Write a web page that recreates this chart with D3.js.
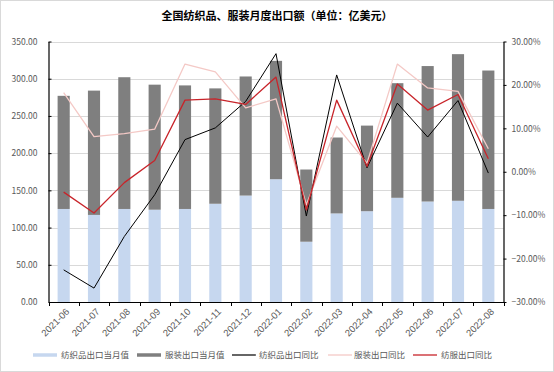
<!DOCTYPE html>
<html><head><meta charset="utf-8">
<script src="https://cdn.jsdelivr.net/npm/d3@7"></script>
<style>
html,body{margin:0;padding:0;background:#fff;}
svg{display:block;font-family:"Noto Sans CJK SC","Noto Sans",sans-serif;}
</style></head>
<body><svg id="c" width="554" height="372"></svg>
<script>
const title = "全国纺织品、服装月度出口额（单位：亿美元）";
const categories = ["2021-06","2021-07","2021-08","2021-09","2021-10","2021-11","2021-12","2022-01","2022-02","2022-03","2022-04","2022-05","2022-06","2022-07","2022-08"];
const textileValue = [125,117,125,124,125,132,143,165,81,119,122,140,135,136,125];
const garmentValue = [152,167,177,168,166,155,160,159,97,102,115,154,182,197,186];
const textileYoY = [-22.6,-26.8,-14.9,-5.3,7.4,10.1,16.2,27.2,-10.2,22.3,0.9,15.8,8.0,16.4,-0.3];
const garmentYoY = [18.2,8.1,8.8,9.8,24.8,23.0,14.7,16.8,-7.6,10.5,2.0,24.8,19.3,18.5,5.3];
const totalYoY = [-4.7,-9.5,-2.5,2.6,16.5,16.8,15.5,21.8,-8.8,16.5,1.2,20.2,14.2,17.8,3.0];
const leftTicks = [0,50,100,150,200,250,300,350];
const rightTicks = [-30,-20,-10,0,10,20,30];
const legendNames = ["纺织品出口当月值","服装出口当月值","纺织品出口同比","服装出口同比","纺服出口同比"];

const colors = {blue:"#c6d7ef", gray:"#7f7f7f", black:"#000000", pink:"#f4c9c6", red:"#c8242a"};
const svg = d3.select("#c");
const W = 554, H = 372;
const L = 48.5, R = 503.5, T = 41.5, B = 302;

svg.append("rect").attr("x",0.5).attr("y",0.5).attr("width",W-1).attr("height",H-1)
  .attr("fill","#fff").attr("stroke","#d9d9d9");

svg.append("text").attr("x",277).attr("y",20).attr("text-anchor","middle")
  .attr("font-size",11).attr("font-weight","bold").attr("fill","#000").text(title);

const x = d3.scaleBand().domain(categories).range([L,R]).paddingInner(0.6).paddingOuter(0.3);
const xb = d3.scaleBand().domain(categories).range([L,R]);
const yL = d3.scaleLinear().domain([0,350]).range([B,T]);
const yR = d3.scaleLinear().domain([-30,30]).range([B,T]);

// gridlines
svg.append("g").selectAll("line").data(leftTicks.filter(d=>d>0)).join("line")
  .attr("x1",L).attr("x2",R).attr("y1",d=>Math.round(yL(d))+0.5).attr("y2",d=>Math.round(yL(d))+0.5)
  .attr("stroke","#d9d9d9").attr("stroke-width",1);

// bars
const stack = categories.map((c,i)=>({c, t:textileValue[i], g:garmentValue[i]}));
svg.append("g").selectAll("rect").data(stack).join("rect")
  .attr("x",d=>x(d.c)).attr("width",x.bandwidth())
  .attr("y",d=>yL(d.t)).attr("height",d=>yL(0)-yL(d.t)).attr("fill",colors.blue);
svg.append("g").selectAll("rect").data(stack).join("rect")
  .attr("x",d=>x(d.c)).attr("width",x.bandwidth())
  .attr("y",d=>yL(d.t+d.g)).attr("height",d=>yL(d.t)-yL(d.t+d.g)).attr("fill",colors.gray);

// lines
const cx = c => xb(c)+xb.bandwidth()/2;
function drawLine(arr,color,w){
  const line = d3.line().x((d,i)=>cx(categories[i])).y(d=>yR(d));
  svg.append("path").datum(arr).attr("d",line).attr("fill","none")
    .attr("stroke",color).attr("stroke-width",w).attr("stroke-linejoin","round");
}
drawLine(textileYoY,colors.black,1);
drawLine(garmentYoY,colors.pink,1.3);
drawLine(totalYoY,colors.red,1.3);

// axes
const axL = d3.axisLeft(yL).tickValues(leftTicks).tickSizeInner(-3).tickSizeOuter(0).tickPadding(11)
  .tickFormat(d3.format(".2f"));
const gL = svg.append("g").attr("transform",`translate(${L},0)`).call(axL);
const axR = d3.axisRight(yR).tickValues(rightTicks).tickSizeInner(3).tickSizeOuter(0).tickPadding(5)
  .tickFormat(d=>d3.format(".2f")(d)+"%");
const gR = svg.append("g").attr("transform",`translate(${R},0)`).call(axR);
const axB = d3.axisBottom(xb).tickSize(0).tickFormat("");
const gB = svg.append("g").attr("transform",`translate(0,${B})`).call(axB);
// category boundary ticks
gB.selectAll("line.bt").data(d3.range(categories.length+1)).join("line").attr("class","bt")
  .attr("x1",i=>Math.round(L+i*xb.step())+0.5).attr("x2",i=>Math.round(L+i*xb.step())+0.5)
  .attr("y1",0).attr("y2",4).attr("stroke","#000");
// x labels
gB.selectAll("text.xl").data(categories).join("text").attr("class","xl")
  .attr("transform",d=>`translate(${cx(d)+4},${8}) rotate(-45)`)
  .attr("text-anchor","end").attr("dy","0.35em").attr("font-size",9.5).attr("fill","#595959").text(d=>d);

[gL,gR,gB].forEach(g=>{
  g.selectAll(".domain").attr("stroke","#000").attr("stroke-width",1.2);
  g.selectAll(".tick line").attr("stroke","#000");
  g.selectAll(".tick text").attr("font-size",8.5).attr("fill","#595959")
    .attr("font-family","\"Noto Sans CJK SC\",\"Noto Sans\",sans-serif");
});

// legend
const legend = [
  {n:legendNames[0], c:colors.blue, w:3.5, x1:33, tx:61},
  {n:legendNames[1], c:colors.gray, w:3.5, x1:137, tx:165},
  {n:legendNames[2], c:colors.black, w:1.2, x1:232, tx:259},
  {n:legendNames[3], c:colors.pink, w:1.3, x1:328, tx:354},
  {n:legendNames[4], c:colors.red, w:1.3, x1:413, tx:441}
];
const lg = svg.append("g").selectAll("g").data(legend).join("g");
lg.append("line").attr("x1",d=>d.x1).attr("x2",d=>d.x1+24).attr("y1",355).attr("y2",355)
  .attr("stroke",d=>d.c).attr("stroke-width",d=>d.w);
lg.append("text").attr("x",d=>d.tx).attr("y",355).attr("dy","0.35em").attr("font-size",8.5)
  .attr("fill","#595959").text(d=>d.n);
</script></body></html>
